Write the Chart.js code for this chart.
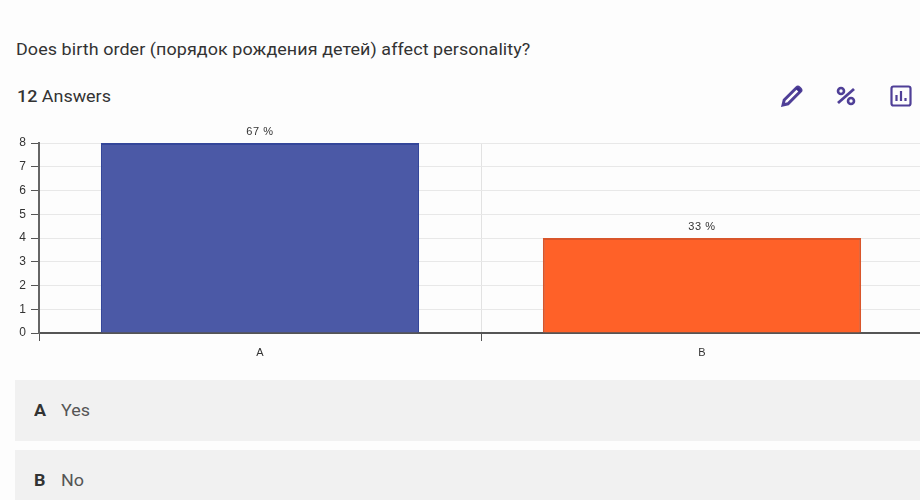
<!DOCTYPE html>
<html>
<head>
    <meta charset="utf-8">
    <script src="https://cdn.jsdelivr.net/npm/chart.js@4"></script>
    <style>
        html, body {
            margin: 0;
            width: 920px;
            height: 500px;
            overflow: hidden;
            background: #fdfdfd;
        }
        body {
            position: relative;
            font-family: Roboto, sans-serif;
            font-size: 16px;
            color: #333;
            filter: blur(0.7px);
        }
        /* the source looks stretched sideways, so the text is too */
        .wide { transform: scaleX(1.12); transform-origin: left center; white-space: nowrap; }
        .question { position: absolute; left: 16px; top: 40px; letter-spacing: 0.07px; }
        .answers { position: absolute; left: 17px; top: 87px; }
        .answers b { font-weight: 500; }
        .icon { position: absolute; top: 84px; width: 24px; height: 24px; }
        .chartBox { position: absolute; left: 0; top: 120px; width: 930px; height: 250px; }
        .row {
            position: absolute;
            left: 15px;
            width: 905px;
            height: 61px;
            background: #f1f1f1;
            line-height: 61px;
        }
        .row b { position: absolute; left: 19px; font-weight: 700; }
        .row span { position: absolute; left: 46px; color: #555; }
    </style>
</head>
<body>
    <div class="question wide">Does birth order (порядок рождения детей) affect personality?</div>
    <div class="answers wide"><b>12</b> Answers</div>

    <svg class="icon" style="left: 780px" viewBox="0 0 24 24">
        <path d="M3 21l1.2-5L16.5 3.7a2 2 0 0 1 2.8 0l1 1a2 2 0 0 1 0 2.8L8 19.8z" fill="#fff" stroke="#4f3f97" stroke-width="3"/>
        <path d="M15.5 4.7l3.8 3.8L21 6.5 18 3.2z" fill="#3d2f8c"/>
    </svg>
    <svg class="icon" style="left: 834px" viewBox="0 0 24 24">
        <circle cx="7" cy="7" r="3" fill="none" stroke="#4f3f97" stroke-width="2.6"/>
        <circle cx="17" cy="17" r="3" fill="none" stroke="#4f3f97" stroke-width="2.6"/>
        <path d="M4 19L20 5" stroke="#4f3f97" stroke-width="2.8"/>
    </svg>
    <svg class="icon" style="left: 889px" viewBox="0 0 24 24">
        <rect x="2.5" y="2.5" width="19" height="19" rx="2" fill="none" stroke="#4f3f97" stroke-width="2.2"/>
        <path d="M7.5 17v-6M12 17V7M16.5 17v-3" stroke="#4f3f97" stroke-width="2.2"/>
    </svg>

    <div class="chartBox"><canvas id="answerChart"></canvas></div>

    <div class="row" style="top: 380px"><b class="wide">A</b><span class="wide">Yes</span></div>
    <div class="row" style="top: 450px"><b class="wide">B</b><span class="wide">No</span></div>

    <script>
        const categories = ["A", "B"];
        const answerCounts = [8, 4];
        const percentLabels = ["67 %", "33 %"];
        const barColors = ["#4b59a6", "#ff6128"];
        const barEdges = ["#34469a", "#d9552a"];

        // percent text above each bar
        const percentPlugin = {
            id: "percentPlugin",
            afterDatasetsDraw(chart) {
                const ctx = chart.ctx;
                ctx.save();
                ctx.font = "11px 'Liberation Sans'";
                ctx.letterSpacing = "0.6px";
                ctx.fillStyle = "#333";
                ctx.textAlign = "center";
                ctx.textBaseline = "bottom";
                chart.getDatasetMeta(0).data.forEach((bar, i) => {
                    ctx.fillText(percentLabels[i], bar.x, bar.y - 6);
                });
                ctx.restore();
            }
        };

        new Chart(document.getElementById("answerChart"), {
            type: "bar",
            data: {
                labels: categories,
                datasets: [{
                    data: answerCounts,
                    backgroundColor: barColors,
                    borderColor: barEdges,
                    borderWidth: 2,
                    categoryPercentage: 0.72,
                    barPercentage: 1,
                }]
            },
            options: {
                animation: false,
                responsive: true,
                maintainAspectRatio: false,
                layout: { padding: { top: 23, right: 7 } },
                plugins: {
                    legend: { display: false },
                    tooltip: { enabled: false },
                },
                scales: {
                    x: {
                        afterFit(axis) { axis.height = 37; },
                        grid: { color: "#e2e2e2", tickColor: "#555", tickLength: 8 },
                        border: { color: "#555", width: 2 },
                        ticks: {
                            color: "#333",
                            padding: 5,
                            font: { family: "Liberation Sans", size: 11 },
                        },
                    },
                    y: {
                        min: 0,
                        max: 8,
                        afterFit(axis) { axis.width = 39; },
                        grid: { color: "#e8e8e8", tickColor: "#555", tickLength: 8 },
                        border: { color: "#666", width: 2 },
                        ticks: {
                            stepSize: 1,
                            color: "#333",
                            padding: 5,
                            font: { family: "Liberation Sans", size: 12 },
                        },
                    },
                },
            },
            plugins: [percentPlugin],
        });
    </script>
</body>
</html>
